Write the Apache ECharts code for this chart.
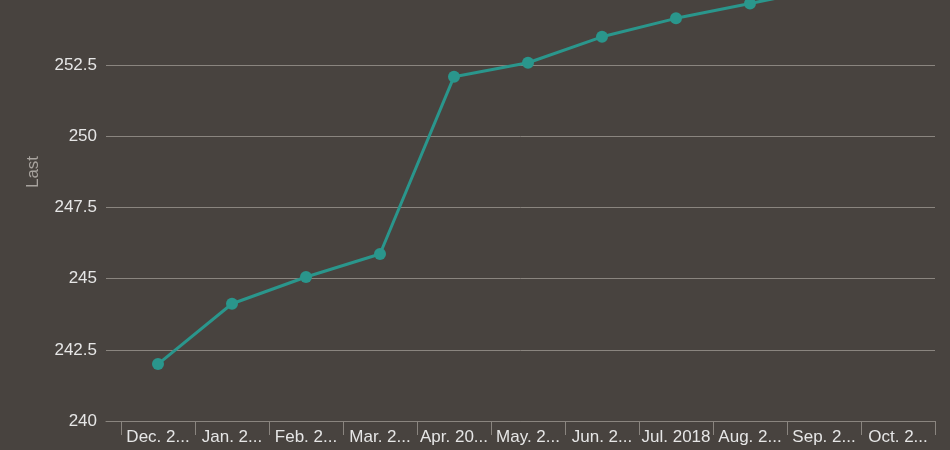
<!DOCTYPE html>
<html>
<head>
<meta charset="utf-8">
<script src="https://cdn.jsdelivr.net/npm/echarts@6/dist/echarts.min.js"></script>
<style>
html,body{margin:0;padding:0;background:#48433f;overflow:hidden;width:950px;height:450px;}
#chart{width:950px;height:526px;position:absolute;left:0;top:-77px;}
</style>
</head>
<body>
<div id="chart"></div>
<script>
const categories = ["Dec. 2017","Jan. 2018","Feb. 2018","Mar. 2018","Apr. 2018","May. 2018","Jun. 2018","Jul. 2018","Aug. 2018","Sep. 2018","Oct. 2018"];
const lastValues = [242.0, 244.12, 245.06, 245.87, 252.10, 252.59, 253.50, 254.15, 254.67, 255.20, 255.6];
const yTicks = [240, 242.5, 245, 247.5, 250, 252.5, 255, 257.5];

const chart = echarts.init(document.getElementById('chart'));
const labelIdx = categories.map((c, i) => i);
const tickPos = categories.map((c, i) => i - 0.5).concat([categories.length - 0.5]);
chart.setOption({
  backgroundColor: '#48433f',
  animation: false,
  textStyle: { fontFamily: 'Liberation Sans' },
  grid: { left: 106, right: 15, top: 0, bottom: 28, containLabel: false, outerBoundsMode: 'none' },
  xAxis: {
    type: 'value',
    min: -0.7027,
    max: categories.length - 0.5,
    splitLine: { show: false },
    axisLine: { show: true, lineStyle: { color: '#8a857f', width: 1 } },
    axisTick: { show: true, length: 14, customValues: tickPos, lineStyle: { color: '#8a857f' } },
    axisLabel: {
      customValues: labelIdx,
      color: '#e6e6e6', fontSize: 17, margin: 8,
      width: 71, overflow: 'truncate', ellipsis: '...',
      formatter: v => categories[Math.round(v)] || ''
    }
  },
  yAxis: {
    type: 'value',
    min: yTicks[0],
    max: yTicks[yTicks.length - 1],
    interval: 2.5,
    name: 'Last',
    nameLocation: 'middle',
    nameGap: 64,
    nameTextStyle: { color: '#a8a39e', fontSize: 17 },
    axisLine: { show: false },
    axisTick: { show: false },
    axisLabel: { color: '#e6e6e6', fontSize: 17, margin: 9 },
    splitLine: { show: true, lineStyle: { color: '#8a857f', width: 1 } }
  },
  series: [{
    type: 'line',
    data: lastValues.map((v, i) => [i, v]),
    symbol: 'circle',
    symbolSize: 12,
    itemStyle: { color: '#2a968c' },
    lineStyle: { color: '#2a968c', width: 3 },
    clip: true
  }]
});
</script>
</body>
</html>
